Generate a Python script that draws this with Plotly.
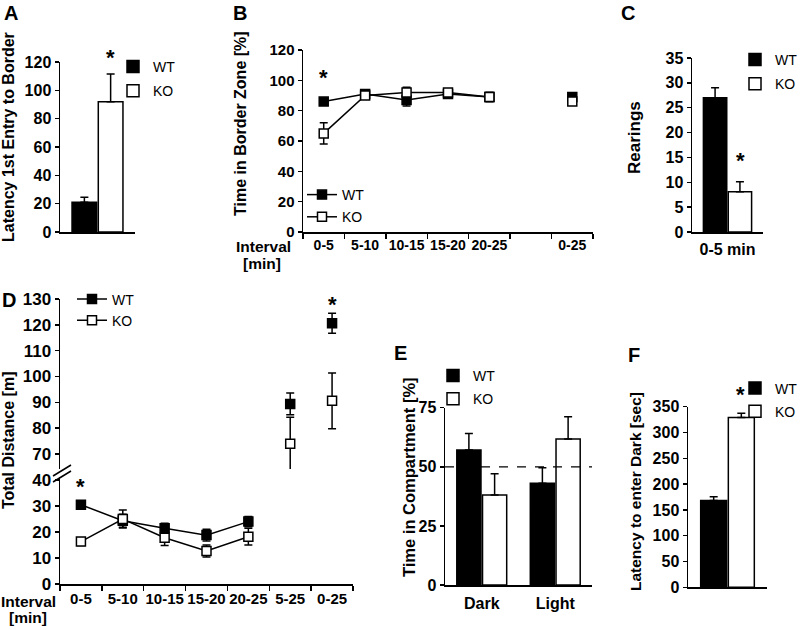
import plotly.graph_objects as go

# ---------------- data ----------------
groups = ["WT", "KO"]

# A: latency to first entry to border
a_mean = [21, 92]
a_err = [3.5, 19.5]

# B: time in border zone [%]
b_intervals = ["0-5", "5-10", "10-15", "15-20", "20-25", " ", "0-25"]
b_wt = [86, 91, 87, 91, 89, None, 89]
b_wt_err = [2, 2, 4, 2, 3, None, 2]
b_ko = [65, 90, 92, 92, 89, None, 86]
b_ko_err = [7, 2, 3.5, 2, 3, None, 2]

# C: rearings 0-5 min
c_category = "0-5 min"
c_mean = [27, 8.1]
c_err = [2.0, 2.0]

# D: total distance [m]
d_intervals = ["0-5", "5-10", "10-15", "15-20", "20-25", "5-25", "0-25"]
d_wt = [30.5, 24.3, 21.4, 18.8, 24.0, 89.4, 120.6]
d_wt_err = [1.5, 2.5, 2.0, 2.3, 2.0, 4.2, 3.9]
d_ko = [16.3, 25.0, 17.8, 12.7, 18.2, 74.0, 90.6]
d_ko_err = [1.5, 3.5, 3.0, 2.3, 3.2, 10.2, 10.8]
d_break = 40  # axis break between 40 and 70
d_low_ticks = [0, 10, 20, 30, 40]
d_up_ticks = [70, 80, 90, 100, 110, 120, 130]

# E: time in compartment [%]
e_compartments = ["Dark", "Light"]
e_wt = [57.1, 43.0]
e_wt_err = [7.0, 6.6]
e_ko = [38.1, 61.8]
e_ko_err = [9.0, 9.4]
e_chance = 50

# F: latency to enter dark [sec]
f_mean = [168, 329]
f_err = [7.5, 8.5]

# ---------------- helpers ----------------
W, H = 800, 630
FONT = "Liberation Sans, Arial, sans-serif"


def px(x):
    return x / W


def py(y):
    return 1 - y / H


def tfont(size=15, bold=True):
    return dict(family=FONT, size=size, color="black", weight="bold" if bold else "normal")


def yax(top, bot, rng, dtick=None, tickvals=None, anchor="x", size=16):
    d = dict(domain=[py(bot), py(top)], range=rng, showline=True, linecolor="black",
             linewidth=1.5, ticks="outside", ticklen=4, tickwidth=1.5, tickcolor="black",
             showgrid=False, zeroline=False, tickfont=tfont(size), anchor=anchor,
             automargin=False)
    if dtick is not None:
        d.update(tickmode="linear", tick0=0, dtick=dtick)
    if tickvals is not None:
        d.update(tickmode="array", tickvals=tickvals)
    return d


def xax(left, right, cats, anchor, labels=True, boundary_ticks=False, standoff=None, size=15):
    d = dict(domain=[px(left), px(right)], type="category", categoryorder="array",
             categoryarray=cats, range=[-0.5, len(cats) - 0.5], showline=True,
             linecolor="black", linewidth=1.5, showgrid=False, zeroline=False,
             tickfont=tfont(size), tickangle=0, showticklabels=labels, anchor=anchor,
             automargin=False)
    if boundary_ticks:
        d.update(ticks="outside", tickson="boundaries", ticklen=5, tickwidth=1.5,
                 tickcolor="black")
    else:
        d.update(ticks="")
    if standoff is not None:
        d.update(ticklabelstandoff=standoff)
    return d


def bar_err(err):
    return dict(type="data", symmetric=False, array=[err], arrayminus=[0],
                color="black", thickness=1.5, width=4)


def sym_err(err):
    return dict(type="data", array=err, color="black", thickness=1.5, width=4)


fills = {"WT": "black", "KO": "white"}

fig = go.Figure()

# ---------------- A ----------------
a_cat = "A"
for i, g in enumerate(groups):
    fig.add_bar(x=[a_cat], y=[a_mean[i]], name=g, error_y=bar_err(a_err[i]),
                marker=dict(color=fills[g], line=dict(color="black", width=1.5)),
                xaxis="x", yaxis="y", legend="legend", legendgroup="A" + g)

# ---------------- B ----------------
for g, vals, errs in [("WT", b_wt, b_wt_err), ("KO", b_ko, b_ko_err)]:
    fig.add_scatter(x=b_intervals, y=vals, name=g, mode="lines+markers",
                    error_y=sym_err(errs), connectgaps=False,
                    line=dict(color="black", width=1.5),
                    marker=dict(symbol="square", size=9, color=fills[g],
                                line=dict(color="black", width=1.5)),
                    xaxis="x2", yaxis="y2", legend="legend2", legendgroup="B" + g,
                    cliponaxis=False)

# ---------------- C ----------------
for i, g in enumerate(groups):
    fig.add_bar(x=[c_category], y=[c_mean[i]], name=g, error_y=bar_err(c_err[i]),
                marker=dict(color=fills[g], line=dict(color="black", width=1.5)),
                xaxis="x3", yaxis="y3", legend="legend3", legendgroup="C" + g)

# ---------------- D (broken axis) ----------------
for g, vals, errs in [("WT", d_wt, d_wt_err), ("KO", d_ko, d_ko_err)]:
    low = [i for i, v in enumerate(vals) if v <= d_break]
    up = [i for i, v in enumerate(vals) if v > d_break]
    fig.add_scatter(x=[d_intervals[i] for i in low], y=[vals[i] for i in low], name=g,
                    mode="lines+markers", error_y=sym_err([errs[i] for i in low]),
                    line=dict(color="black", width=1.5),
                    marker=dict(symbol="square", size=9, color=fills[g],
                                line=dict(color="black", width=1.5)),
                    xaxis="x4", yaxis="y4", legend="legend4", legendgroup="D" + g,
                    cliponaxis=False)
    fig.add_scatter(x=[d_intervals[i] for i in up], y=[vals[i] for i in up], name=g,
                    mode="markers", error_y=sym_err([errs[i] for i in up]),
                    marker=dict(symbol="square", size=9, color=fills[g],
                                line=dict(color="black", width=1.5)),
                    xaxis="x4", yaxis="y7", showlegend=False, legendgroup="D" + g,
                    cliponaxis=False)

# ---------------- E ----------------
for g, vals, errs in [("WT", e_wt, e_wt_err), ("KO", e_ko, e_ko_err)]:
    fig.add_bar(x=e_compartments, y=vals, name=g,
                error_y=dict(type="data", symmetric=False, array=errs,
                             arrayminus=[0] * len(errs), color="black",
                             thickness=1.5, width=4),
                marker=dict(color=fills[g], line=dict(color="black", width=1.5)),
                xaxis="x5", yaxis="y5", legend="legend5", legendgroup="E" + g)

# ---------------- F ----------------
f_cat = "F"
for i, g in enumerate(groups):
    fig.add_bar(x=[f_cat], y=[f_mean[i]], name=g, error_y=bar_err(f_err[i]),
                marker=dict(color=fills[g], line=dict(color="black", width=1.5)),
                xaxis="x6", yaxis="y6", legend="legend6", legendgroup="F" + g)

# ---------------- layout ----------------
# D: lower segment 0..40 at 584..480 px, upper 70..130 at 454..299 px
d_low_top_px, d_low_bot_px = 477, 584
d_up_top_px, d_up_bot_px = 299, 469
low_scale = (584 - 480) / 40.0
up_scale = (454 - 299) / 60.0
d_low_range = [0, (584 - d_low_top_px) / low_scale]
d_up_range = [70 - (d_up_bot_px - 454) / up_scale, 130]

layout = dict(
    width=W, height=H, margin=dict(l=0, r=0, t=0, b=0, autoexpand=False), autosize=False,
    paper_bgcolor="white", plot_bgcolor="rgba(0,0,0,0)",
    barmode="group", bargap=0.3, bargroupgap=0.06,
    font=dict(family=FONT, color="black"),
    xaxis=xax(60, 135, [a_cat], "y", labels=False),
    yaxis=yax(62, 232, [0, 120], dtick=20, anchor="x"),
    xaxis2=xax(303, 593, b_intervals, "y2", boundary_ticks=True, size=14),
    yaxis2=yax(50, 232, [0, 120], dtick=20, anchor="x2", size=15),
    xaxis3=xax(692, 763, [c_category], "y3", standoff=2, size=16),
    yaxis3=yax(58, 232, [0, 35], dtick=5, anchor="x3"),
    xaxis4=xax(60, 353, d_intervals, "y4", boundary_ticks=True, size=15),
    yaxis4=yax(d_low_top_px, d_low_bot_px, d_low_range, tickvals=d_low_ticks, anchor="x4", size=17),
    yaxis7=yax(d_up_top_px, d_up_bot_px, d_up_range, tickvals=d_up_ticks, anchor="x4", size=17),
    xaxis5=xax(445, 592, e_compartments, "y5", standoff=3, size=16),
    yaxis5=yax(407.7, 585, [0, 75], dtick=25, anchor="x5"),
    xaxis6=xax(688, 767, [f_cat], "y6", labels=False),
    yaxis6=yax(406.7, 587.3, [0, 350], dtick=50, anchor="x6"),
)


def legend_at(xpx, ymid, gap):
    return dict(x=px(xpx), y=py(ymid), xanchor="left", yanchor="middle",
                bgcolor="rgba(0,0,0,0)", borderwidth=0, font=tfont(14, bold=False),
                traceorder="grouped", tracegroupgap=gap, itemclick=False)


layout["legend"] = legend_at(113, 79, 3)
layout["legend2"] = legend_at(302, 206, 1)
layout["legend3"] = legend_at(735, 72, 3)
layout["legend4"] = legend_at(72, 310, 0)
layout["legend5"] = legend_at(433, 387.5, 2)
layout["legend6"] = legend_at(735, 400, 2)

fig.update_layout(**layout)

# ---------------- annotations ----------------
ann = []
for letter, xx, yy in [("A", 11, 13), ("B", 240, 13), ("C", 628, 13), ("D", 9, 300),
                       ("E", 400, 353), ("F", 634, 355)]:
    ann.append(dict(text=letter, x=px(xx), y=py(yy), xref="paper", yref="paper",
                    xanchor="center", yanchor="middle", showarrow=False, font=tfont(20)))

for title, xx, yy, fs in [("Latency 1st Entry to Border", 8, 137, 16),
                          ("Time in Border Zone [%]", 241, 124, 16),
                          ("Rearings", 634, 138, 17),
                          ("Total Distance [m]", 8, 440, 16),
                          ("Time in Compartment [%]", 409, 477, 16.5),
                          ("Latency to enter Dark [sec]", 635, 492, 15.5)]:
    ann.append(dict(text=title, x=px(xx), y=py(yy), xref="paper", yref="paper",
                    xanchor="center", yanchor="middle", textangle=-90, showarrow=False,
                    font=tfont(fs)))

for txt, xx, yy in [("Interval", 263, 247), ("[min]", 262, 263.5),
                    ("Interval", 28, 601.5), ("[min]", 28, 617)]:
    ann.append(dict(text=txt, x=px(xx), y=py(yy), xref="paper", yref="paper",
                    xanchor="center", yanchor="middle", showarrow=False, font=tfont(15.5)))

star = dict(text="*", showarrow=False, font=tfont(22), xanchor="center", yanchor="middle")
ann.append(dict(star, x=a_cat, y=a_mean[1] + a_err[1], xref="x", yref="y", xshift=13, yshift=17))
ann.append(dict(star, x=b_intervals[0], y=b_wt[0] + b_wt_err[0], xref="x2", yref="y2", yshift=21))
ann.append(dict(star, x=c_category, y=c_mean[1] + c_err[1], xref="x3", yref="y3", xshift=13, yshift=21))
ann.append(dict(star, x=d_intervals[0], y=d_wt[0] + d_wt_err[0], xref="x4", yref="y4", yshift=14))
ann.append(dict(star, x=d_intervals[-1], y=d_wt[-1] + d_wt_err[-1], xref="x4", yref="y7", yshift=9))
ann.append(dict(star, x=f_cat, y=f_mean[1] + f_err[1], xref="x6", yref="y6", xshift=13, yshift=19))
fig.update_layout(annotations=ann)

# chance line in E and axis-break marks in D
shapes = [dict(type="line", xref="x5 domain", x0=0, x1=1, yref="y5", y0=e_chance, y1=e_chance,
               line=dict(color="black", width=1.2, dash="dash"))]
for off in (0, 6):
    shapes.append(dict(type="line", xref="paper", yref="paper",
                       x0=px(53), y0=py(476 + off), x1=px(71), y1=py(465 + off),
                       line=dict(color="black", width=1.5)))
fig.update_layout(shapes=shapes)

fig.write_html("out.html", config={"displayModeBar": False, "staticPlot": True},
               post_script="document.body.style.margin='0px';document.body.style.overflow='hidden';")
